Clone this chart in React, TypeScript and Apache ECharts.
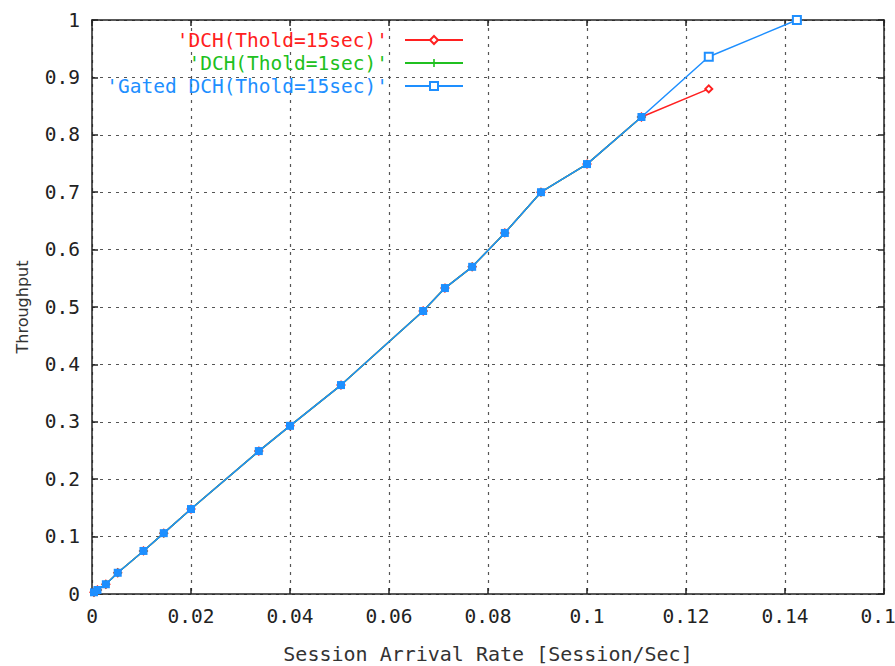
import React, { useEffect, useRef } from "react";
import * as echarts from "echarts";

// Session arrival rate [session/sec]
const rateX = [0.0004, 0.0011, 0.0028, 0.0052, 0.0104, 0.0145, 0.02, 0.0337, 0.04, 0.0503, 0.0669, 0.0713, 0.0768, 0.0834, 0.0907, 0.1, 0.111, 0.1246, 0.1424];
// 'Gated DCH(Thold=15sec)'
const gatedY = [0.003, 0.007, 0.017, 0.037, 0.075, 0.106, 0.148, 0.249, 0.293, 0.364, 0.493, 0.533, 0.57, 0.629, 0.7, 0.749, 0.831, 0.936, 1.0];
// 'DCH(Thold=15sec)'
const dch15Y = [0.003, 0.007, 0.017, 0.037, 0.075, 0.106, 0.148, 0.249, 0.293, 0.364, 0.493, 0.533, 0.57, 0.629, 0.7, 0.749, 0.831, 0.88];
// 'DCH(Thold=1sec)'
const dch1Y = [0.003, 0.007, 0.017, 0.037, 0.075, 0.106, 0.148, 0.249, 0.293, 0.364, 0.493, 0.533, 0.57, 0.629, 0.7, 0.749, 0.831];

const seriesNames = ["'DCH(Thold=15sec)'", "'DCH(Thold=1sec)'", "'Gated DCH(Thold=15sec)'"];
const seriesColors = ["#ff2020", "#20c020", "#1e8fff"];

const xTitle = "Session Arrival Rate [Session/Sec]";
const yTitle = "Throughput";

const MONO = "'DejaVu Sans Mono', 'Liberation Mono', monospace";
const PLUS = "path://M4,0H6V4H10V6H6V10H4V6H0V4H4Z";

export default function App() {
  const ref = useRef<HTMLDivElement>(null);
  useEffect(() => {
    if (!ref.current) return;
    const chart = echarts.init(ref.current, null, { renderer: "svg" });
    const pair = (ys: number[]) => ys.map((y, i) => [rateX[i], y]);
    const fmt = (v: number) => String(parseFloat(v.toFixed(3)));
    const axisLine = { show: true, onZero: false, lineStyle: { color: "#222", width: 1.5 } };
    const tick = { show: true, inside: true, length: 6, lineStyle: { color: "#222", width: 1.5 } };
    const split = { show: true, lineStyle: { color: "#555", type: [3, 5] as any, width: 1.2 } };
    const labelStyle = { color: "#222", fontFamily: MONO, fontSize: 19.5 };

    const gatedData = gatedY.map((y, i) =>
      i < dch1Y.length
        ? { value: [rateX[i], y], symbol: "rect", itemStyle: { color: seriesColors[2] } }
        : { value: [rateX[i], y] }
    );

    chart.setOption({
      animation: false,
      backgroundColor: "#fff",
      grid: { left: 92, right: 11, top: 20, bottom: 72, containLabel: false, outerBoundsMode: "none" },
      legend: {
        orient: "vertical",
        align: "right",
        right: 426,
        top: 25,
        itemWidth: 58,
        itemHeight: 10,
        itemGap: 3,
        textStyle: { fontFamily: MONO, fontSize: 19.5, lineHeight: 18, padding: [0, 12, 0, 0] },
        data: seriesNames.map((n, i) => ({ name: n, textStyle: { color: seriesColors[i] } })),
      },
      xAxis: [
        {
          type: "value",
          min: 0,
          max: 0.16,
          interval: 0.02,
          position: "bottom",
          axisLine,
          axisTick: tick,
          splitLine: split,
          axisLabel: { ...labelStyle, margin: 12, formatter: fmt },
          name: xTitle,
          nameLocation: "middle",
          nameGap: 50,
          nameTextStyle: { color: "#333", fontFamily: MONO, fontSize: 20 },
        },
        {
          type: "value",
          min: 0,
          max: 0.16,
          interval: 0.02,
          position: "top",
          axisLine,
          axisTick: tick,
          splitLine: { show: false },
          axisLabel: { show: false },
        },
      ],
      yAxis: [
        {
          type: "value",
          min: 0,
          max: 1,
          interval: 0.1,
          position: "left",
          axisLine,
          axisTick: tick,
          splitLine: split,
          axisLabel: { ...labelStyle, margin: 12, formatter: fmt },
          name: yTitle,
          nameLocation: "middle",
          nameGap: 62,
          nameTextStyle: { color: "#333", fontFamily: "'DejaVu Sans', sans-serif", fontSize: 16 },
        },
        {
          type: "value",
          min: 0,
          max: 1,
          interval: 0.1,
          position: "right",
          axisLine,
          axisTick: tick,
          splitLine: { show: false },
          axisLabel: { show: false },
        },
      ],
      series: [
        {
          name: seriesNames[0],
          type: "line",
          data: pair(dch15Y),
          color: seriesColors[0],
          symbol: "emptyDiamond",
          symbolSize: 7,
          lineStyle: { width: 1.5 },
          itemStyle: { borderWidth: 1.2 },
          z: 1,
        },
        {
          name: seriesNames[1],
          type: "line",
          data: pair(dch1Y),
          color: seriesColors[1],
          symbol: PLUS,
          symbolSize: 8,
          lineStyle: { width: 1.5 },
          z: 1,
        },
        {
          name: seriesNames[2],
          type: "line",
          data: gatedData,
          color: seriesColors[2],
          symbol: "emptyRect",
          symbolSize: 8,
          lineStyle: { width: 1.5 },
          itemStyle: { borderWidth: 1.5 },
          z: 3,
        },
      ],
    });
    return () => chart.dispose();
  }, []);
  return <div ref={ref} style={{ width: 895, height: 666, position: "absolute", left: 0, top: 0 }} />;
}
